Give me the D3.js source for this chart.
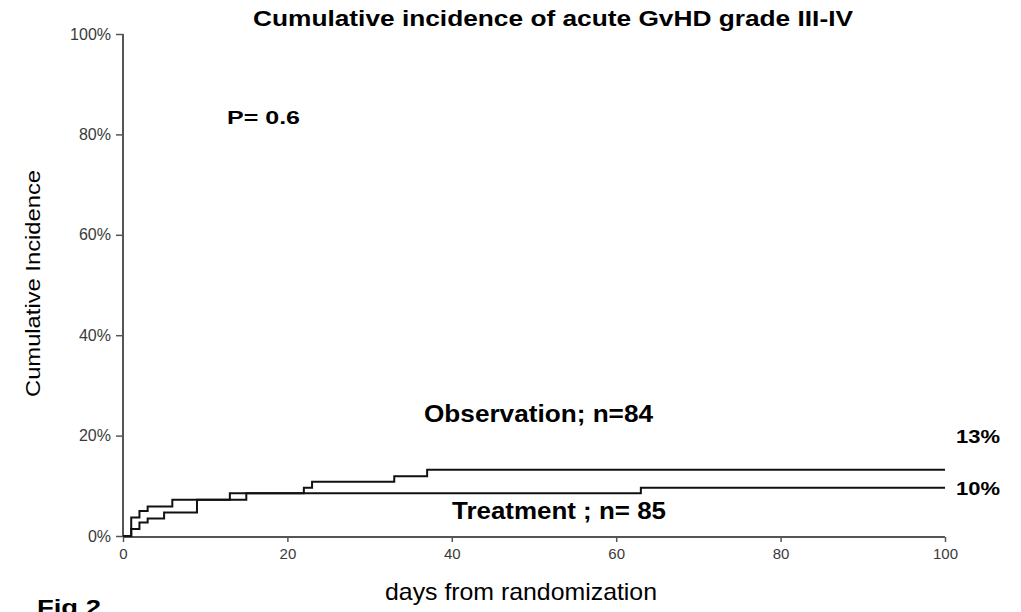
<!DOCTYPE html>
<html>
<head>
<meta charset="utf-8">
<script src="https://cdn.jsdelivr.net/npm/d3@7"></script>
<style>
  html, body { margin: 0; padding: 0; background: #fff; }
  svg { display: block; font-family: "Liberation Sans", Arial, sans-serif; }
</style>
</head>
<body>
<svg id="chart" width="1021" height="612"></svg>
<script>
// Cumulative incidence (%) step data, by event day
const obsDays   = [0, 1, 2, 3, 6, 13, 22, 23, 33, 37, 100];
const obsValues = [0, 3.7, 5.0, 5.9, 7.2, 8.5, 9.6, 10.8, 11.9, 13.2, 13.2];
const trtDays   = [0, 1, 2, 3, 5, 9, 15, 63, 100];
const trtValues = [0, 1.4, 2.7, 3.5, 4.7, 7.2, 8.5, 9.6, 9.6];

const xTicks = [0, 20, 40, 60, 80, 100];
const yTicks = [0, 20, 40, 60, 80, 100];

const titleText = "Cumulative incidence of acute GvHD grade III-IV";
const pValueText = "P= 0.6";
const obsLabel = "Observation; n=84";
const trtLabel = "Treatment ; n= 85";

const svg = d3.select("#chart");

const x = d3.scaleLinear().domain([0, 100]).range([123, 945]);
const y = d3.scaleLinear().domain([0, 100]).range([536, 34]);

// Axes
const yAxis = svg.append("g")
  .attr("transform", `translate(${x(0)},0)`)
  .call(d3.axisLeft(y).tickValues(yTicks).tickSize(7).tickPadding(5)
        .tickFormat(d => d + "%"));
const xAxis = svg.append("g")
  .attr("transform", `translate(0,${y(0) + 1})`)
  .call(d3.axisBottom(x).tickValues(xTicks).tickSize(5).tickPadding(6));

[yAxis, xAxis].forEach(g => {
  g.select(".domain").attr("stroke", "#555").attr("stroke-width", 2);
  g.selectAll(".tick line").attr("stroke", "#555").attr("stroke-width", 1.5);
  g.selectAll(".tick text")
    .attr("fill", "#3a3a3a")
    .style("font-family", "'Liberation Sans', Arial, sans-serif");
});
yAxis.selectAll(".tick text").style("font-size", "16px");
xAxis.selectAll(".tick text").style("font-size", "15px");
// flatten the outer tick caps of the axis domains
yAxis.select(".domain").attr("d", `M0,${y(100)}V${y(0) + 1}`);
xAxis.select(".domain").attr("d", `M${x(0)},0H${x(100)}`);

// Step curves
const line = d3.line()
  .x(d => x(d[0]))
  .y(d => y(d[1]))
  .curve(d3.curveStepAfter);

const obsData = obsDays.map((d, i) => [d, obsValues[i]]);
const trtData = trtDays.map((d, i) => [d, trtValues[i]]);

[obsData, trtData].forEach(data => {
  svg.append("path")
    .datum(data)
    .attr("d", line)
    .attr("fill", "none")
    .attr("stroke", "#111")
    .attr("stroke-width", 2);
});

// Text helpers
function txt(str, px, py, size, weight, len, anchor) {
  const t = svg.append("text")
    .attr("x", px).attr("y", py)
    .attr("font-size", size)
    .attr("font-weight", weight)
    .attr("fill", "#000")
    .attr("text-anchor", anchor || "start")
    .text(str);
  if (len) t.attr("textLength", len).attr("lengthAdjust", "spacingAndGlyphs");
  return t;
}

// Title
txt(titleText, 253, 26, 22, "bold", 600);

// P-value
txt(pValueText, 227, 124, 19, "bold", 73);

// Group labels
txt(obsLabel, 424, 422, 23, "bold", 229);
txt(trtLabel, 452, 519, 23, "bold", 214);

// End values
const fmtPct = v => d3.format(".0f")(v) + "%";
txt(fmtPct(obsValues[obsValues.length - 1]), 956, 443, 19, "bold", 44);
txt(fmtPct(trtValues[trtValues.length - 1]), 956, 495, 19, "bold", 44);

// Axis titles
txt("days from randomization", 385, 600, 24, "normal", 272);
svg.append("text")
  .attr("transform", "translate(40,397) rotate(-90)")
  .attr("font-size", 20)
  .attr("fill", "#000")
  .attr("textLength", 227)
  .attr("lengthAdjust", "spacingAndGlyphs")
  .text("Cumulative Incidence");

// Figure tag, partly below the bottom edge
txt("Fig 2", 37, 615, 22, "bold", 64);
</script>
</body>
</html>
